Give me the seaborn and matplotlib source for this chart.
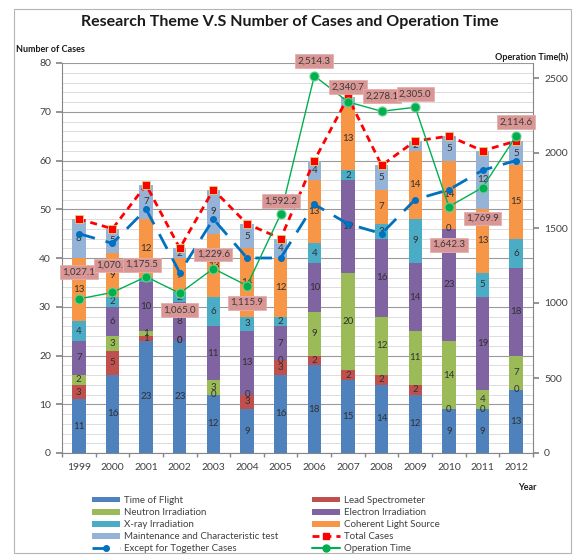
import matplotlib
matplotlib.use('Agg')
import matplotlib.pyplot as plt
import matplotlib.ticker as mticker
from matplotlib.patches import Patch, Rectangle
from matplotlib.lines import Line2D
import seaborn as sns
import pandas as pd
import numpy as np

# --- Data ---
years = [str(y) for y in range(1999, 2013)]
tof = [11, 16, 23, 23, 12, 9, 16, 18, 15, 14, 12, 9, 9, 13]
lead = [3, 5, 1, 0, 0, 3, 3, 2, 2, 2, 2, 0, 0, 0]
neutron = [2, 3, 1, 0, 3, 0, 0, 9, 20, 12, 11, 14, 4, 7]
electron = [7, 6, 10, 8, 11, 13, 7, 10, 19, 16, 14, 23, 19, 18]
xray = [4, 2, 1, 2, 6, 3, 2, 4, 2, 3, 9, 0, 5, 6]
coherent = [13, 9, 12, 7, 13, 14, 12, 13, 13, 7, 14, 14, 13, 15]
maint = [8, 5, 7, 2, 9, 5, 4, 4, 2, 5, 2, 5, 12, 5]
total_cases = [48, 46, 55, 42, 54, 47, 44, 60, 73, 59, 64, 65, 62, 64]
except_cases = [45, 43, 50, 37, 48, 40, 40, 51, 47, 45, 52, 54, 58, 60]
op_time = [1027.1, 1070.3, 1175.5, 1065.0, 1229.6, 1115.9, 1592.2,
           2514.3, 2340.7, 2278.1, 2305.0, 1642.3, 1769.9, 2114.6]

layer_names = ['Time of Flight', 'Lead Spectrometer', 'Neutron Irradiation',
               'Electron Irradiation', 'X-ray Irradiation', 'Coherent Light Source',
               'Maintenance and Characteristic test']
layer_values = [tof, lead, neutron, electron, xray, coherent, maint]
layer_colors = ['#4F81BD', '#C0504D', '#9BBB59', '#8064A2', '#4BACC6', '#F79646', '#95B3D7']

# vertical offset (px) of each operation-time label from its point
label_dy = [27, 27, 12, -17, 14, -17, 13, 15, 15, 15, 13, -38, -31, 14]
label_dx = [0, 0, -4, 0, 0, 0, 0, 0, 0, 0, 0, 0, 0, 0]

# --- Setup ---
sns.set_theme(style="white")
plt.rcParams['font.family'] = ['Lato', 'DejaVu Sans']
TXT = '#404040'

fig = plt.figure(figsize=(5.74, 5.56), dpi=100)
ax = fig.add_axes([62 / 574, 1 - 453 / 556, 471 / 574, 390 / 556])

df = pd.DataFrame({'Year': years})
cum = np.cumsum(np.array(layer_values), axis=0)

# stacked bars: draw cumulative heights from the top layer down
for i in range(len(layer_values) - 1, -1, -1):
    df['h'] = cum[i]
    sns.barplot(data=df, x='Year', y='h', color=layer_colors[i], saturation=1,
                width=0.4, linewidth=0, errorbar=None, ax=ax, zorder=2)

# segment labels
for i, vals in enumerate(layer_values):
    for j, v in enumerate(vals):
        mid = cum[i][j] - v / 2
        ax.text(j, mid, f'{v}', ha='center', va='center', fontsize=7,
                color='#303030', zorder=3)

x_idx = np.arange(len(years))
ax.plot(x_idx, except_cases, color='#0070C0', lw=2, dashes=(6, 4),
        marker='o', ms=4, zorder=4)
ax.plot(x_idx, total_cases, color='#FF0000', lw=2, dashes=(2.5, 1.8),
        marker='s', ms=5.5, markeredgecolor='#D8D870', markeredgewidth=0.6, zorder=5)

ax.set_xlim(-0.5, len(years) - 0.5)
ax.set_ylim(0, 80)
ax.yaxis.set_major_locator(mticker.MultipleLocator(10))
ax.yaxis.set_minor_locator(mticker.MultipleLocator(2))
ax.grid(which='major', axis='y', color='#9A9A9A', lw=0.8)
ax.grid(which='minor', axis='y', color='#DCDCDC', lw=0.7)
ax.set_axisbelow(True)
ax.set_xlabel('')
ax.set_ylabel('')
ax.xaxis.set_minor_locator(mticker.FixedLocator(np.arange(-0.5, len(years), 1)))
ax.tick_params(axis='x', which='major', length=0, labelsize=7.5, labelcolor=TXT, pad=7)
ax.tick_params(axis='x', which='minor', length=3, color='#868686', bottom=True)
ax.tick_params(axis='y', which='major', length=4, color='#868686', left=True,
               labelsize=7.5, labelcolor=TXT, pad=4)
ax.tick_params(axis='y', which='minor', length=0)
for s in ['left', 'bottom', 'right']:
    ax.spines[s].set_color('#868686')
    ax.spines[s].set_linewidth(0.8)
ax.spines['top'].set_visible(False)

# operation time on the secondary axis
ax2 = ax.twinx()
sns.lineplot(x=x_idx, y=op_time, ax=ax2, color='#00B050', lw=1, marker='o',
             markersize=6.5, markeredgewidth=0.8, markeredgecolor='#6CD08C', zorder=6)
ax2.set_ylim(0, 2600)
ax2.yaxis.set_major_locator(mticker.MultipleLocator(500))
ax2.tick_params(axis='y', length=4, color='#868686', right=True,
                labelsize=7.5, labelcolor=TXT, pad=4)
ax2.grid(False)
for s in ['left', 'bottom', 'right', 'top']:
    ax2.spines[s].set_visible(False)

for j, v in enumerate(op_time):
    ax2.annotate(f'{v:,.1f}', (j, v),
                 xytext=(label_dx[j] * 0.72, label_dy[j] * 0.72), textcoords='offset points',
                 ha='center', va='center', fontsize=7, color='#3A3A3A', zorder=7,
                 bbox=dict(boxstyle='square,pad=0.25', fc='#D99694', ec='#E3B0AE', lw=0.6))

# titles and axis captions
fig.text(0.505, 0.96, 'Research Theme V.S Number of Cases and Operation Time',
         ha='center', va='center', fontsize=11.5, fontweight='bold', color='#1A1A1A')
fig.text(16 / 574, 1 - 50 / 556, 'Number of Cases', ha='left', va='center',
         fontsize=6.5, fontweight='bold', color='#1A1A1A')
fig.text(568 / 574, 1 - 57 / 556, 'Operation Time(h)', ha='right', va='center',
         fontsize=6.5, fontweight='bold', color='#1A1A1A')
fig.text(527 / 574, 1 - 487 / 556, 'Year', ha='center', va='center',
         fontsize=6.5, fontweight='bold', color='#1A1A1A')

# legend, two columns placed separately
def bar_handle(k):
    return Patch(facecolor=layer_colors[k], edgecolor='none', label=layer_names[k])

left_handles = [bar_handle(0), bar_handle(2), bar_handle(4), bar_handle(6),
                Line2D([], [], color='#0070C0', lw=2, dashes=(6, 4), marker='o', ms=4,
                       label='Except for Together Cases')]
right_handles = [bar_handle(1), bar_handle(3), bar_handle(5),
                 Line2D([], [], color='#FF0000', lw=2, dashes=(2.5, 1.8), marker='s', ms=5,
                        label='Total Cases'),
                 Line2D([], [], color='#00B050', lw=1.5, marker='o', ms=5,
                        label='Operation Time')]
leg_kw = dict(loc='upper left', frameon=False, fontsize=7, handlelength=2.9,
              handleheight=0.55, handletextpad=0.4, labelspacing=0.32,
              borderpad=0, borderaxespad=0, labelcolor=TXT)
fig.legend(handles=left_handles, bbox_to_anchor=(92 / 574, 1 - 496 / 556), **leg_kw)
fig.legend(handles=right_handles, bbox_to_anchor=(312 / 574, 1 - 496 / 556), **leg_kw)

# chart frame
fig.patches.append(Rectangle((14 / 574, 3 / 556), 557 / 574, 544 / 556,
                             transform=fig.transFigure, fill=False,
                             ec='#B5B5B5', lw=0.8))

fig.savefig('out.png', dpi=100)
plt.close(fig)
